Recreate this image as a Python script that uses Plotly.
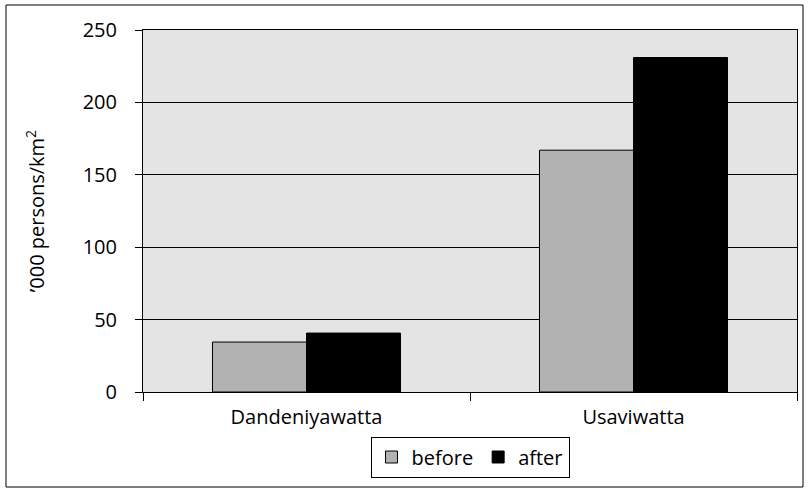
import plotly.graph_objects as go

categories = ["Dandeniyawatta", "Usaviwatta"]
before = [34.5, 167]
after = [40.7, 231]
y_ticks = [0, 50, 100, 150, 200, 250]

fig = go.Figure()
fig.add_trace(go.Bar(name="before", x=categories, y=before,
                     marker=dict(color="#b2b2b2", line=dict(color="#000000", width=1))))
fig.add_trace(go.Bar(name="after", x=categories, y=after,
                     marker=dict(color="#000000", line=dict(color="#000000", width=1))))

W, H = 810, 492
L, R, T, B = 143, 13, 30, 100
pw, ph = W - L - R, H - T - B

def px_x(p):
    return (p - L) / pw

def px_y(p):
    return (H - B - p) / ph

FONT = "Open Sans, Liberation Sans, Arial, sans-serif"

fig.update_layout(
    width=W, height=H,
    margin=dict(l=L, r=R, t=T, b=B),
    paper_bgcolor="white",
    plot_bgcolor="#e4e4e4",
    barmode="group",
    bargap=0.425,
    bargroupgap=0,
    font=dict(family=FONT, size=20, color="#000000"),
    showlegend=True,
    legend=dict(orientation="h", x=0.5, xanchor="center", y=px_y(457), yanchor="middle",
                bordercolor="#000000", borderwidth=1, bgcolor="white",
                font=dict(size=20), itemwidth=30, tracegroupgap=0),
    xaxis=dict(showline=True, linecolor="#000000", linewidth=1, mirror=True,
               ticks="outside", ticklen=8, tickcolor="#000000", tickson="boundaries",
               showgrid=False, ticklabelstandoff=7, tickfont=dict(size=20)),
    yaxis=dict(range=[0, 250], tickvals=y_ticks, showline=True, linecolor="#000000",
               linewidth=1, mirror=True, ticks="outside", ticklen=7, tickcolor="#000000",
               showgrid=True, gridcolor="#000000", gridwidth=1, zeroline=False,
               ticklabelstandoff=14, tickfont=dict(size=20),
               title=dict(text="’000 persons/km<sup>2</sup>", standoff=32, font=dict(size=20))),
    shapes=[dict(type="rect", xref="paper", yref="paper",
                 x0=px_x(6), x1=px_x(803), y0=px_y(487), y1=px_y(5),
                 line=dict(color="#000000", width=1), fillcolor="rgba(0,0,0,0)", layer="below")],
)

fig.write_html("out.html", config={"displayModeBar": False},
               post_script="document.body.style.margin='0px';")
